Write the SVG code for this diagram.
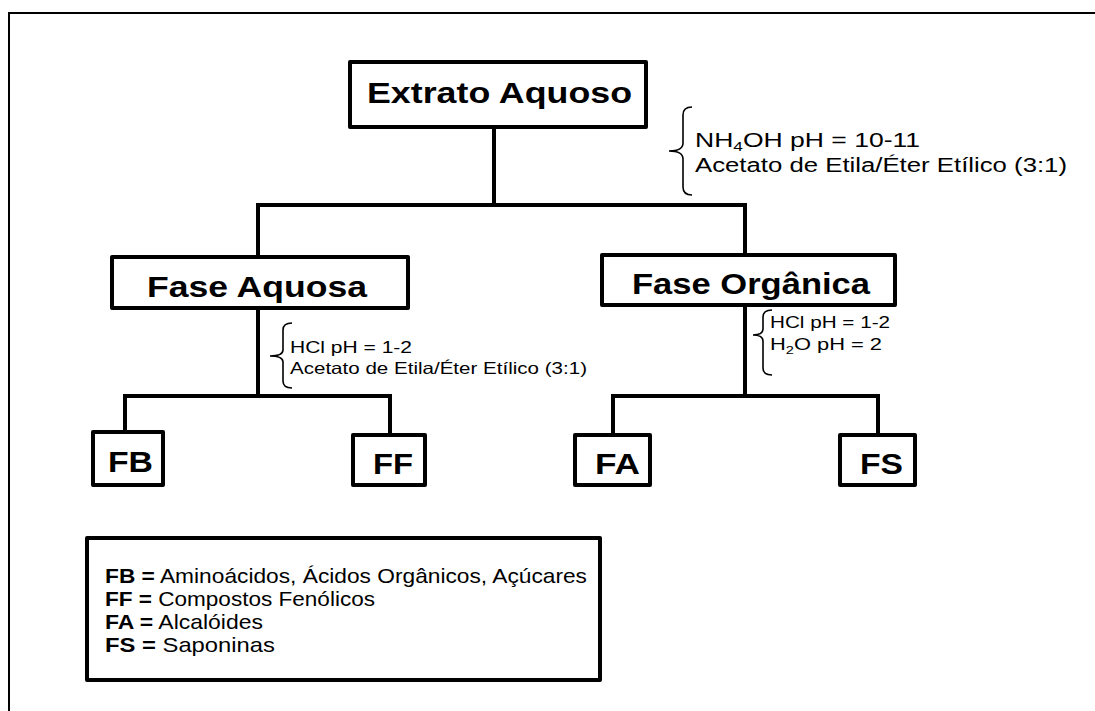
<svg xmlns="http://www.w3.org/2000/svg" width="1095" height="711" viewBox="0 0 1095 711">
<style>
.box{fill:#fff;stroke:#000;stroke-width:4;stroke-linejoin:round}
.conn{fill:none;stroke:#000;stroke-width:4;stroke-linejoin:miter}
.brace{fill:none;stroke:#000;stroke-width:1.6}
.big{font-family:"Liberation Sans",Arial,sans-serif;font-weight:bold;font-size:29px;fill:#000}
.ann{font-family:"Liberation Sans",Arial,sans-serif;fill:#000}
.leg{font-family:"Liberation Sans",Arial,sans-serif;font-size:21px;fill:#000}
</style>
<rect width="1095" height="711" fill="#fff"/>
<path d="M9 711 V13 H1095" fill="none" stroke="#000" stroke-width="2"/>
<g id="connectors">
<path class="conn" d="M494 127 V205"/>
<path class="conn" d="M258 257 V205 H745 V255"/>
<path class="conn" d="M258 308 V396"/>
<path class="conn" d="M125 432 V396 H390 V435"/>
<path class="conn" d="M745 305 V396"/>
<path class="conn" d="M613 435 V396 H878 V435"/>
</g>
<g id="extrato">
<rect class="box" x="350" y="62" width="296" height="65"/>
<text class="big" x="367" y="103" textLength="265" lengthAdjust="spacingAndGlyphs">Extrato Aquoso</text>
</g>
<g id="note-top">
<path class="brace" d="M692 107 Q683 107 683 115 V143 Q683 151 669 151 Q683 151 683 159 V187 Q683 195 692 195"/>
<text class="ann" font-size="20" x="695" y="147" textLength="225" lengthAdjust="spacingAndGlyphs">NH<tspan font-size="13" dy="4">4</tspan><tspan dy="-4">OH  pH = 10-11</tspan></text>
<text class="ann" font-size="20" x="695" y="172" textLength="372" lengthAdjust="spacingAndGlyphs">Acetato de Etila/Éter Etílico (3:1)</text>
</g>
<g id="fase-aquosa">
<rect class="box" x="112" y="257" width="296" height="51"/>
<text class="big" x="147" y="297" textLength="220" lengthAdjust="spacingAndGlyphs">Fase Aquosa</text>
</g>
<g id="fase-organica">
<rect class="box" x="602" y="255" width="293" height="50"/>
<text class="big" x="632" y="294" textLength="238" lengthAdjust="spacingAndGlyphs">Fase Orgânica</text>
</g>
<g id="note-aquosa">
<path class="brace" d="M292 323 Q283 323 283 330 V350 Q283 356 270 356 Q283 356 283 362 V381 Q283 388 292 388"/>
<text class="ann" font-size="16.5" x="290" y="353" textLength="122" lengthAdjust="spacingAndGlyphs">HCl  pH = 1-2</text>
<text class="ann" font-size="16.5" x="290" y="374" textLength="297" lengthAdjust="spacingAndGlyphs">Acetato de Etila/Éter Etílico (3:1)</text>
</g>
<g id="note-organica">
<path class="brace" d="M772 310 Q763 310 763 317 V329 Q763 335 753 335 Q763 335 763 341 V368 Q763 375 772 375"/>
<text class="ann" font-size="16.5" x="770" y="328" textLength="120" lengthAdjust="spacingAndGlyphs">HCl  pH = 1-2</text>
<text class="ann" font-size="16.5" x="770" y="350" textLength="112" lengthAdjust="spacingAndGlyphs">H<tspan font-size="11" dy="4">2</tspan><tspan dy="-4">O pH = 2</tspan></text>
</g>
<g id="fb">
<rect class="box" x="93" y="432" width="70" height="53"/>
<text class="big" x="108" y="472" textLength="45" lengthAdjust="spacingAndGlyphs">FB</text>
</g>
<g id="ff">
<rect class="box" x="353" y="435" width="72" height="50"/>
<text class="big" x="373" y="474" textLength="40" lengthAdjust="spacingAndGlyphs">FF</text>
</g>
<g id="fa">
<rect class="box" x="575" y="435" width="75" height="50"/>
<text class="big" x="595" y="474" textLength="45" lengthAdjust="spacingAndGlyphs">FA</text>
</g>
<g id="fs">
<rect class="box" x="840" y="435" width="75" height="50"/>
<text class="big" x="860" y="474" textLength="43" lengthAdjust="spacingAndGlyphs">FS</text>
</g>
<g id="legend">
<rect class="box" x="87" y="538" width="513" height="142"/>
<text class="leg" x="105" y="583" textLength="482" lengthAdjust="spacingAndGlyphs"><tspan font-weight="bold">FB =</tspan> Aminoácidos, Ácidos Orgânicos, Açúcares</text>
<text class="leg" x="105" y="606" textLength="270" lengthAdjust="spacingAndGlyphs"><tspan font-weight="bold">FF =</tspan> Compostos Fenólicos</text>
<text class="leg" x="105" y="629" textLength="158" lengthAdjust="spacingAndGlyphs"><tspan font-weight="bold">FA =</tspan> Alcalóides</text>
<text class="leg" x="105" y="652" textLength="170" lengthAdjust="spacingAndGlyphs"><tspan font-weight="bold">FS =</tspan> Saponinas</text>
</g>
</svg>
